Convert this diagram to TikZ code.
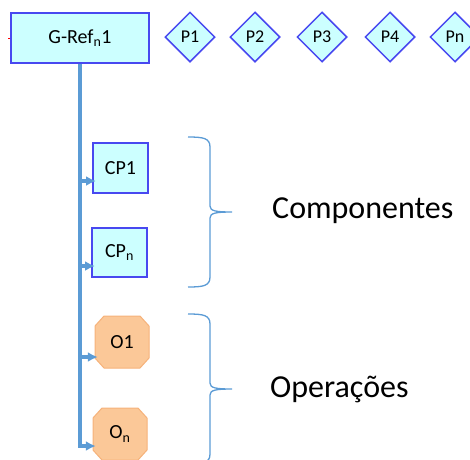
\documentclass[tikz,border=0pt]{standalone}
\usepackage{fontspec}
\setmainfont{Carlito}
\usetikzlibrary{shapes.geometric,arrows.meta}
\definecolor{linkblue}{RGB}{91,155,213}
\definecolor{boxfill}{RGB}{204,255,255}
\definecolor{boxline}{RGB}{72,72,240}
\definecolor{opfill}{RGB}{251,200,152}
\definecolor{opline}{RGB}{246,178,122}
\tikzset{
  >={Latex[length=10pt,width=10pt]},
}
\tikzstyle{refbox}=[draw=boxline,line width=2pt,fill=boxfill,inner sep=0pt,font=\fontsize{20}{24}\selectfont]
\tikzstyle{param}=[diamond,aspect=1,draw=boxline,line width=1.5pt,fill=boxfill,minimum size=50pt,inner sep=0pt,font=\fontsize{18}{22}\selectfont]
\tikzstyle{oper}=[minimum width=54pt,minimum height=52pt,inner sep=0pt,font=\fontsize{20}{24}\selectfont]
\tikzstyle{octshape}=[draw=opline,line width=1pt,fill=opfill]
\tikzstyle{link}=[linkblue,line width=3.5pt]
\tikzstyle{bracket}=[linkblue,line width=1.3pt]
\tikzstyle{grouptitle}=[anchor=base west,inner sep=0pt,font=\fontsize{32}{38}\selectfont]

\begin{document}
\begin{tikzpicture}[x=1pt,y=-1pt]
    \useasboundingbox (0,0) rectangle (470,459);
    % octagon outlines of the operations
    \foreach \cx/\cy in {122/342,120/434}
      \draw[octshape] (\cx-18,\cy-26) -- (\cx+18,\cy-26) -- (\cx+27,\cy-16) -- (\cx+27,\cy+16)
        -- (\cx+18,\cy+26) -- (\cx-18,\cy+26) -- (\cx-27,\cy+16) -- (\cx-27,\cy-16) -- cycle;
    \node[refbox,minimum width=138pt,minimum height=50pt] (gref) at (80,38) {G-Ref\textsubscript{n}1};
    \foreach \lbl/\xx in {P1/190,P2/255,P3/322,P4/390,Pn/455}
      \node[param] (\lbl) at (\xx,37) {\lbl};
    \node[refbox,minimum width=55pt,minimum height=50pt] (cp1) at (120.5,168) {CP1};
    \node[refbox,minimum width=55pt,minimum height=49pt] (cpn) at (119.5,252.5) {CP\textsubscript{n}};
    \node[oper] (o1) at (122,342) {O1};
    \node[oper] (on) at (120,434) {O\textsubscript{n}};
    \coordinate (stub) at (8,38);
    \draw[red,line width=1pt] (stub) -- (gref.west);
    % entry points of the branches
    \coordinate (cp1-in) at ([xshift=4pt,yshift=-13pt]cp1.west);
    \coordinate (cpn-in) at ([xshift=4pt,yshift=-13.5pt]cpn.west);
    \coordinate (o1-in) at ([xshift=3pt,yshift=-15pt]o1.west);
    \coordinate (on-in) at ([xshift=3pt,yshift=-12pt]on.west);
    \draw[link,->] (gref.south) -- (gref.south |- on-in) -- (on-in);
    \foreach \n in {cp1-in,cpn-in,o1-in}
      \draw[link,->] (gref.south |- \n) -- (\n);
    % braces
    \foreach \top/\tip in {137/212,314/389}
      \draw[bracket] (188,\top) .. controls (203,\top) and (210,\top+1) .. (210,\top+10)
        -- (210,\tip-6) .. controls (210,\tip-1) and (216,\tip) .. (232,\tip)
        .. controls (216,\tip) and (210,\tip+1) .. (210,\tip+6)
        -- (210,2*\tip-\top-10) .. controls (210,2*\tip-\top-1) and (203,2*\tip-\top) .. (188,2*\tip-\top);
    \node[grouptitle] (comp) at (272,218) {Componentes};
    \node[grouptitle] (oper) at (270,397) {Operações};
\end{tikzpicture}
\end{document}
